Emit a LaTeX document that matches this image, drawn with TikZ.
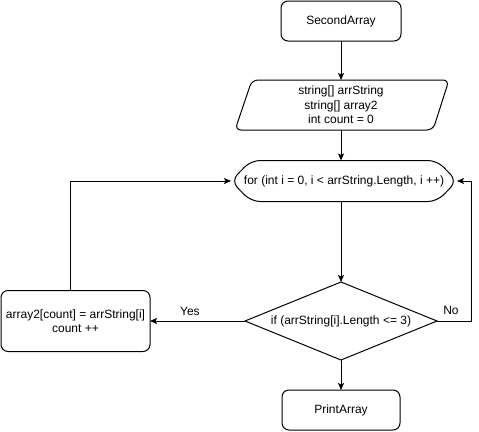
\documentclass[tikz,border=0pt]{standalone}
\usepackage{fontspec}
\setmainfont{Liberation Sans}
\usetikzlibrary{arrows.meta}
\begin{document}
\begin{tikzpicture}[x=1pt,y=-1pt,
  line width=1pt,
  font=\fontsize{12}{14.5}\selectfont,
  every node/.style={inner sep=0pt, outer sep=0pt, align=center},
  term/.style={draw, rounded corners=7pt, minimum width=118pt, minimum height=40pt},
  proc/.style={draw, rounded corners=7pt, minimum width=149pt, minimum height=61pt},
  flow/.style={-{Stealth[length=7pt,width=6pt,inset=1.5pt]}},
  lbl/.style={font=\fontsize{12}{14}\selectfont}]
\useasboundingbox (0,0) rectangle (479,431);

% terminals
\node[term, minimum width=120pt] (start) at (341,21) {SecondArray};
\node[term] (stop) at (341,410) {PrintArray};

% input / output block (parallelogram)
\node[minimum width=213pt, minimum height=50pt] (input) at (341,105)
  {string[] arrString\\string[] array2\\int count = 0};
\draw[rounded corners=6pt] (252,80) -- (449,80) -- (433,130) -- (235,130) -- cycle;

% loop header (rounded hexagon)
\node[minimum width=226pt, minimum height=41pt] (loop) at (344,181)
  {for (int i = 0, i < arrString.Length, i ++)};
\draw[rounded corners=9pt] (loop.west) -- ([xshift=20pt]loop.north west)
  -- ([xshift=-20pt]loop.north east) -- (loop.east)
  -- ([xshift=-20pt]loop.south east) -- ([xshift=20pt]loop.south west) -- cycle;

% decision
\node[minimum width=192pt, minimum height=78pt] (cond) at (341,321)
  {if (arrString[i].Length <= 3)};
\draw (cond.north) -- (cond.east) -- (cond.south) -- (cond.west) -- cycle;

% loop body
\node[proc] (body) at (75.5,321) {array2[count] = arrString[i]\\count ++};

% turning points
\coordinate (rt) at (471,181);

% connectors
\draw[flow] (start.south) -- (input.north);
\draw[flow] (input.south) -- (input.south |- loop.north);
\draw[flow] (input.south |- loop.south) -- (cond.north);
\draw[flow] (cond.south) -- (stop.north);
\draw[flow] (cond.west) -- (body.east) node[lbl, pos=0.58, above=5pt] {Yes};
\draw[flow] ([xshift=-5pt]body.north) |- (loop.west);
\draw[flow] (cond.east) -| (rt) -- (loop.east);
\node[lbl] (no) at (451,310) {No};
\end{tikzpicture}
\end{document}
